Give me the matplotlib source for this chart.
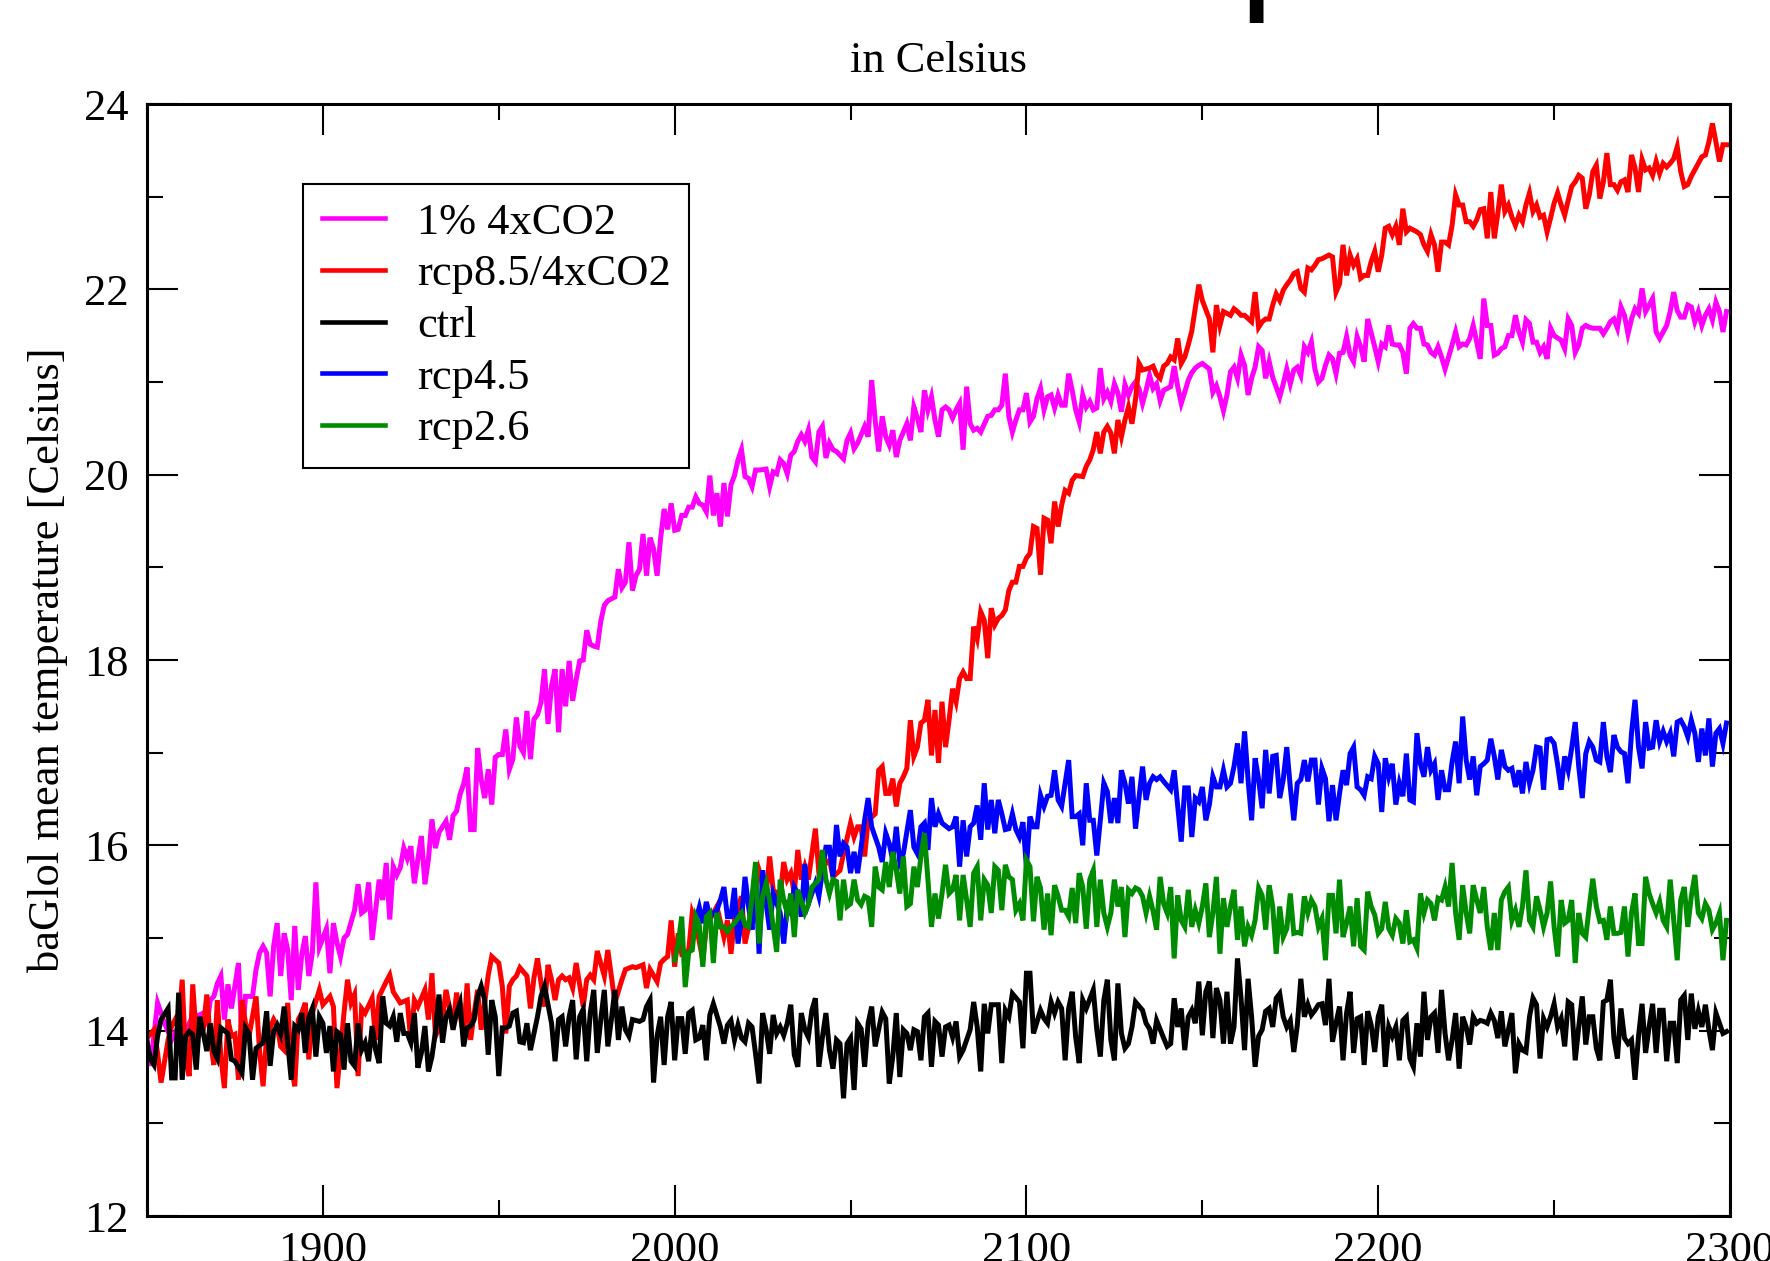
import matplotlib
matplotlib.use("Agg")
import matplotlib.pyplot as plt
from matplotlib.ticker import MultipleLocator

# ---------------- data (annual global mean temperature) -------------
series_labels = ["1% 4xCO2", "rcp8.5/4xCO2", "ctrl", "rcp4.5", "rcp2.6"]
series_colors = ["#ff00ff", "#ff0000", "#000000", "#0000ff", "#008c00"]

onepct_pts = [(1850,13.90),(1851,13.62),(1853,14.30),(1855,14.08),(1857,13.90),(1859,14.05),(1861,13.95),(1862,14.08),(1863,14.15),(1865,14.17),(1866,14.19),(1867,14.05),(1868,14.33),(1869,14.37),(1870,14.51),(1871,14.59),(1872,14.12),(1873,14.50),(1874,14.24),(1876,14.73),(1877,13.90),(1878,14.37),(1880,14.37),(1881,14.66),(1882,14.84),(1883,14.91),(1884,14.84),(1885,14.37),(1886,14.91),(1887,15.16),(1888,14.59),(1889,15.05),(1890,14.87),(1891,14.33),(1892,15.13),(1893,14.44),(1894,14.82),(1895,15.02),(1896,14.59),(1897,14.84),(1898,15.60),(1899,14.90),(1900,15.00),(1901,15.10),(1902,14.62),(1903,15.16),(1904,14.95),(1905,14.80),(1906,15.00),(1907,15.04),(1909,15.30),(1910,15.58),(1911,15.27),(1912,15.30),(1913,15.60),(1914,14.98),(1915,15.30),(1916,15.63),(1917,15.41),(1918,15.81),(1919,15.20),(1920,15.77),(1921,15.68),(1922,15.76),(1923,15.97),(1924,15.86),(1925,15.99),(1926,15.59),(1927,15.85),(1928,16.10),(1929,15.58),(1930,15.85),(1931,16.28),(1932,15.97),(1933,16.14),(1935,16.26),(1936,16.06),(1937,16.32),(1938,16.37),(1939,16.55),(1940,16.66),(1941,16.84),(1942,16.17),(1943,16.17),(1944,17.05),(1945,16.71),(1946,16.51),(1947,16.82),(1948,16.44),(1949,16.95),(1950,16.98),(1951,16.98),(1952,17.25),(1953,16.82),(1954,16.93),(1955,17.38),(1956,17.07),(1957,17.00),(1958,17.45),(1959,16.93),(1960,17.36),(1961,17.41),(1962,17.54),(1963,17.90),(1964,17.31),(1965,17.72),(1966,17.90),(1967,17.22),(1968,17.90),(1969,17.50),(1970,17.99),(1971,17.56),(1972,17.79),(1973,17.99),(1974,18.00),(1975,18.32),(1976,18.17),(1977,18.15),(1978,18.14),(1979,18.42),(1980,18.59),(1981,18.64),(1982,18.66),(1983,18.68),(1984,18.98),(1985,18.78),(1986,18.84),(1987,19.27),(1988,18.75),(1989,18.91),(1990,18.98),(1991,19.36),(1992,18.91),(1993,19.32),(1994,19.20),(1995,18.91),(1996,19.31),(1997,19.63),(1998,19.41),(1999,19.69),(2000,19.40),(2001,19.41),(2002,19.56),(2003,19.56),(2004,19.65),(2005,19.65),(2006,19.76),(2007,19.69),(2008,19.67),(2009,19.60),(2010,19.99),(2011,19.56),(2012,19.80),(2013,19.44),(2014,19.91),(2015,19.55),(2016,19.89),(2017,19.99),(2018,20.16),(2019,20.27),(2020,19.98),(2021,19.96),(2022,19.87),(2023,20.05),(2024,20.05),(2026,20.06),(2027,19.87),(2028,20.03),(2029,20.01),(2030,20.16),(2031,20.12),(2032,20.01),(2033,20.21),(2034,20.25),(2035,20.36),(2036,20.43),(2037,20.36),(2038,20.48),(2039,20.19),(2040,20.14),(2041,20.46),(2042,20.52),(2043,20.18),(2044,20.34),(2045,20.27),(2046,20.25),(2048,20.17),(2049,20.37),(2050,20.45),(2051,20.28),(2052,20.34),(2054,20.52),(2055,20.41),(2056,21.02),(2057,20.59),(2058,20.25),(2059,20.63),(2060,20.41),(2061,20.32),(2062,20.48),(2063,20.19),(2064,20.37),(2065,20.46),(2066,20.55),(2067,20.37),(2068,20.73),(2069,20.61),(2070,20.46),(2071,20.91),(2072,20.70),(2073,20.84),(2074,20.59),(2075,20.41),(2076,20.70),(2077,20.73),(2078,20.70),(2079,20.61),(2080,20.70),(2081,20.77),(2082,20.27),(2083,20.95),(2084,20.55),(2085,20.48),(2086,20.50),(2087,20.46),(2089,20.63),(2090,20.64),(2091,20.70),(2092,20.70),(2093,20.75),(2094,21.09),(2095,20.63),(2096,20.46),(2097,20.59),(2098,20.70),(2099,20.70),(2100,20.88),(2101,20.57),(2102,20.63),(2103,20.82),(2104,20.93),(2105,20.70),(2106,20.84),(2107,20.86),(2108,20.72),(2109,20.86),(2110,20.75),(2111,20.75),(2112,21.09),(2113,20.91),(2114,20.70),(2115,20.57),(2116,20.86),(2117,20.73),(2118,20.79),(2119,20.70),(2120,20.72),(2121,21.15),(2122,20.82),(2123,20.89),(2124,20.79),(2125,20.98),(2126,20.88),(2127,20.68),(2128,20.97),(2129,20.86),(2130,20.95),(2131,21.00),(2132,20.93),(2133,20.77),(2134,20.91),(2135,21.07),(2136,20.93),(2137,20.98),(2138,20.80),(2139,20.91),(2140,20.93),(2141,20.95),(2142,21.17),(2143,20.95),(2144,20.77),(2145,20.89),(2146,21.02),(2147,21.10),(2148,21.15),(2149,21.18),(2150,21.20),(2152,21.14),(2153,20.89),(2154,20.96),(2155,20.84),(2156,20.69),(2157,20.86),(2158,21.11),(2159,21.16),(2160,21.04),(2161,21.29),(2162,21.18),(2163,20.86),(2164,21.04),(2165,21.16),(2166,21.38),(2167,21.34),(2168,21.04),(2169,21.22),(2170,21.05),(2172,20.84),(2173,20.98),(2174,21.14),(2175,20.98),(2176,21.13),(2177,21.16),(2178,21.07),(2179,21.38),(2180,21.32),(2181,21.43),(2182,21.14),(2183,21.00),(2184,21.04),(2185,21.18),(2186,21.29),(2187,21.25),(2188,21.09),(2189,21.31),(2190,21.32),(2191,21.49),(2192,21.29),(2193,21.22),(2194,21.49),(2195,21.38),(2196,21.22),(2197,21.68),(2199,21.38),(2200,21.22),(2201,21.41),(2202,21.38),(2203,21.61),(2204,21.41),(2205,21.40),(2206,21.40),(2207,21.32),(2208,21.09),(2209,21.58),(2210,21.63),(2211,21.58),(2212,21.58),(2213,21.41),(2214,21.40),(2215,21.32),(2216,21.29),(2217,21.38),(2218,21.27),(2219,21.14),(2220,21.27),(2221,21.40),(2222,21.54),(2223,21.38),(2224,21.41),(2225,21.40),(2226,21.47),(2227,21.61),(2229,21.25),(2230,21.90),(2231,21.61),(2232,21.61),(2233,21.29),(2234,21.31),(2235,21.36),(2236,21.38),(2237,21.50),(2238,21.50),(2239,21.72),(2240,21.54),(2241,21.43),(2242,21.67),(2243,21.63),(2244,21.43),(2245,21.43),(2246,21.32),(2247,21.38),(2248,21.25),(2249,21.58),(2250,21.50),(2252,21.45),(2253,21.36),(2254,21.68),(2255,21.61),(2256,21.32),(2257,21.40),(2258,21.58),(2259,21.61),(2260,21.59),(2261,21.58),(2263,21.58),(2264,21.52),(2265,21.58),(2266,21.65),(2267,21.68),(2268,21.58),(2269,21.81),(2270,21.72),(2271,21.52),(2272,21.68),(2273,21.79),(2274,21.74),(2275,22.01),(2276,21.76),(2278,21.90),(2279,21.54),(2280,21.47),(2281,21.54),(2282,21.61),(2283,21.76),(2284,21.97),(2285,21.77),(2286,21.70),(2287,21.70),(2288,21.83),(2289,21.81),(2290,21.65),(2291,21.76),(2292,21.61),(2293,21.72),(2294,21.79),(2295,21.67),(2296,21.86),(2297,21.76),(2298,21.54),(2299,21.76)]

rcp85_pts = [(1850,13.92),(1852,14.01),(1853,13.76),(1854,13.44),(1856,13.90),(1857,14.05),(1858,14.12),(1859,14.01),(1860,14.55),(1861,13.69),(1862,13.51),(1863,14.50),(1864,13.94),(1866,14.01),(1867,14.39),(1868,13.90),(1869,13.63),(1870,14.33),(1871,13.72),(1872,13.38),(1873,14.12),(1874,13.94),(1875,13.96),(1876,13.47),(1877,14.33),(1878,14.08),(1879,13.94),(1881,14.37),(1882,13.78),(1883,13.40),(1884,13.94),(1886,14.12),(1887,14.05),(1888,13.83),(1889,13.79),(1890,14.30),(1891,13.62),(1892,13.40),(1893,14.12),(1894,14.19),(1895,14.30),(1896,13.69),(1897,14.19),(1899,14.44),(1900,14.28),(1902,14.37),(1903,14.26),(1904,13.38),(1906,14.19),(1907,14.55),(1908,14.30),(1909,14.39),(1910,13.51),(1911,14.24),(1912,14.19),(1914,14.35),(1915,13.90),(1916,14.37),(1918,14.53),(1919,14.60),(1920,14.42),(1922,14.30),(1924,14.33),(1925,13.87),(1926,14.33),(1927,14.26),(1929,14.44),(1930,14.12),(1931,14.62),(1932,13.94),(1934,14.12),(1935,14.44),(1937,14.05),(1938,14.41),(1940,13.94),(1941,14.51),(1942,13.90),(1943,14.19),(1944,14.44),(1945,14.01),(1947,14.60),(1948,14.80),(1950,14.73),(1951,14.48),(1952,13.97),(1953,14.48),(1954,14.55),(1955,14.59),(1956,14.68),(1958,14.59),(1959,14.24),(1960,14.57),(1961,14.78),(1963,14.26),(1964,14.71),(1965,14.55),(1966,14.33),(1967,14.55),(1968,14.59),(1969,14.55),(1970,14.57),(1971,14.46),(1972,14.73),(1974,14.26),(1975,14.55),(1976,14.60),(1977,14.55),(1978,14.86),(1980,14.59),(1981,14.87),(1982,14.59),(1983,14.30),(1985,14.55),(1986,14.66),(1988,14.69),(1989,14.68),(1991,14.71),(1992,14.46),(1993,14.66),(1995,14.53),(1996,14.73),(1997,14.77),(1998,14.80),(1999,15.19),(2000,14.69),(2001,15.05),(2002,14.83),(2004,14.87),(2005,15.27),(2006,15.16),(2008,14.76),(2009,15.12),(2011,15.27),(2012,15.34),(2014,15.01),(2015,15.19),(2016,14.83),(2017,15.19),(2019,15.45),(2020,14.94),(2021,15.12),(2023,15.48),(2024,15.73),(2026,15.48),(2027,15.88),(2028,15.52),(2030,15.45),(2031,15.82),(2032,15.63),(2033,15.70),(2034,15.48),(2035,15.95),(2036,15.63),(2037,15.77),(2038,15.63),(2040,16.18),(2041,15.70),(2042,15.77),(2044,15.84),(2045,15.66),(2047,15.73),(2048,15.91),(2050,16.24),(2051,16.09),(2052,16.20),(2053,16.20),(2054,15.88),(2055,16.27),(2057,16.34),(2058,16.81),(2059,16.85),(2060,16.56),(2061,16.56),(2062,16.72),(2063,16.42),(2064,16.67),(2065,16.74),(2066,16.83),(2067,17.35),(2068,16.96),(2069,17.06),(2070,17.32),(2071,17.35),(2072,17.57),(2073,16.97),(2074,17.46),(2075,16.89),(2076,17.55),(2077,17.06),(2078,17.35),(2079,17.69),(2080,17.55),(2081,17.80),(2082,17.87),(2083,17.80),(2084,17.80),(2085,18.36),(2086,18.23),(2087,18.52),(2088,18.43),(2089,18.02),(2090,18.56),(2091,18.38),(2092,18.45),(2093,18.48),(2094,18.54),(2095,18.75),(2096,18.84),(2097,18.84),(2098,19.01),(2099,19.01),(2100,19.10),(2101,19.15),(2102,19.44),(2103,19.42),(2104,18.92),(2105,19.53),(2106,19.51),(2107,19.26),(2108,19.71),(2109,19.44),(2110,19.67),(2111,19.83),(2112,19.80),(2113,19.94),(2114,19.99),(2116,19.98),(2117,20.09),(2118,20.16),(2119,20.27),(2120,20.46),(2121,20.23),(2122,20.46),(2123,20.52),(2124,20.45),(2125,20.23),(2126,20.59),(2127,20.41),(2128,20.59),(2129,20.73),(2130,20.55),(2131,20.81),(2132,21.20),(2133,21.13),(2135,21.15),(2136,21.17),(2137,21.08),(2138,21.04),(2139,21.17),(2140,21.20),(2141,21.27),(2142,21.24),(2143,21.47),(2144,21.20),(2145,21.27),(2146,21.40),(2147,21.55),(2148,21.80),(2149,22.05),(2150,21.88),(2152,21.68),(2153,21.32),(2154,21.83),(2155,21.61),(2156,21.76),(2157,21.74),(2158,21.72),(2159,21.79),(2160,21.76),(2161,21.72),(2162,21.72),(2164,21.65),(2165,21.97),(2166,21.59),(2167,21.65),(2168,21.68),(2169,21.68),(2170,21.83),(2171,21.95),(2172,21.88),(2173,21.99),(2174,22.05),(2175,22.10),(2176,22.17),(2177,22.19),(2178,22.01),(2179,21.97),(2180,22.23),(2181,22.21),(2182,22.26),(2183,22.32),(2184,22.33),(2186,22.37),(2187,22.35),(2188,21.97),(2189,22.06),(2190,22.48),(2191,22.15),(2192,22.37),(2193,22.26),(2194,22.33),(2195,22.12),(2196,22.15),(2197,22.15),(2198,22.30),(2199,22.41),(2200,22.19),(2201,22.37),(2202,22.66),(2203,22.68),(2204,22.59),(2205,22.68),(2206,22.48),(2207,22.87),(2208,22.62),(2209,22.66),(2210,22.64),(2211,22.62),(2212,22.59),(2213,22.48),(2214,22.41),(2215,22.59),(2216,22.48),(2217,22.19),(2218,22.51),(2219,22.51),(2220,22.48),(2221,22.69),(2222,23.02),(2223,22.91),(2224,22.91),(2225,22.73),(2226,22.73),(2227,22.68),(2228,22.75),(2229,22.86),(2230,22.87),(2231,22.55),(2232,23.05),(2233,22.55),(2234,22.82),(2235,23.13),(2236,22.84),(2237,22.91),(2238,22.78),(2239,22.69),(2240,22.80),(2241,22.73),(2242,22.91),(2243,23.04),(2244,22.84),(2245,22.91),(2246,22.78),(2247,22.80),(2248,22.62),(2249,22.77),(2250,22.93),(2251,23.04),(2252,22.91),(2253,22.80),(2254,22.96),(2255,23.11),(2256,23.16),(2257,23.23),(2258,23.20),(2259,22.87),(2260,23.02),(2261,23.27),(2262,23.34),(2263,22.98),(2264,23.16),(2265,23.47),(2266,23.13),(2267,23.13),(2268,23.07),(2269,23.16),(2270,23.18),(2271,23.05),(2272,23.45),(2273,23.31),(2274,23.05),(2275,23.40),(2276,23.29),(2277,23.31),(2278,23.23),(2279,23.38),(2280,23.25),(2281,23.36),(2282,23.32),(2283,23.36),(2284,23.41),(2285,23.54),(2286,23.27),(2287,23.11),(2288,23.13),(2289,23.22),(2290,23.29),(2291,23.36),(2292,23.43),(2293,23.45),(2294,23.59),(2295,23.79),(2296,23.59),(2297,23.38),(2298,23.56),(2299,23.56)]

ctrl_pts = [(1850,13.88),(1851,13.69),(1852,13.63),(1853,13.94),(1854,14.12),(1856,14.24),(1857,13.49),(1858,13.49),(1859,14.41),(1860,13.47),(1861,13.94),(1862,13.99),(1863,13.96),(1864,13.58),(1865,14.15),(1866,13.97),(1867,13.78),(1868,14.08),(1869,13.78),(1870,13.70),(1871,14.03),(1873,13.97),(1874,13.69),(1875,13.67),(1877,13.54),(1878,14.03),(1879,13.97),(1880,13.47),(1881,13.81),(1883,13.87),(1884,14.21),(1885,13.62),(1886,13.99),(1887,14.06),(1888,13.96),(1889,14.26),(1890,13.87),(1891,13.47),(1892,14.05),(1893,14.01),(1894,14.19),(1895,13.76),(1896,14.14),(1897,14.24),(1898,13.72),(1899,14.15),(1900,14.08),(1901,13.76),(1902,14.05),(1903,13.56),(1904,13.99),(1905,13.96),(1906,13.58),(1907,14.08),(1908,13.67),(1909,13.62),(1910,14.08),(1911,13.79),(1912,13.87),(1913,13.67),(1914,14.05),(1915,13.79),(1916,13.65),(1917,14.37),(1918,14.08),(1919,14.05),(1920,14.15),(1921,13.88),(1922,14.19),(1923,13.97),(1924,13.97),(1925,13.87),(1926,14.19),(1927,13.60),(1928,13.76),(1929,14.05),(1930,13.56),(1931,13.72),(1932,13.99),(1933,14.39),(1934,13.87),(1935,14.15),(1936,14.23),(1937,14.01),(1938,14.19),(1939,14.30),(1940,13.83),(1941,14.03),(1942,14.05),(1943,14.12),(1944,14.37),(1945,14.48),(1946,14.33),(1947,13.74),(1948,14.33),(1949,14.15),(1950,13.51),(1951,14.03),(1952,14.03),(1953,14.05),(1954,14.19),(1955,14.21),(1956,13.88),(1957,13.87),(1958,14.08),(1959,13.79),(1960,13.97),(1961,14.15),(1962,14.37),(1963,14.48),(1965,14.08),(1966,13.67),(1967,14.12),(1968,14.15),(1969,13.83),(1970,14.15),(1971,14.33),(1972,13.69),(1973,14.15),(1974,14.23),(1975,13.67),(1976,14.19),(1977,14.44),(1978,13.76),(1979,14.12),(1980,14.44),(1981,13.83),(1982,14.12),(1983,14.44),(1984,13.90),(1985,14.26),(1986,14.01),(1987,13.94),(1988,14.12),(1990,14.10),(1991,14.12),(1992,14.26),(1993,14.33),(1994,13.44),(1995,13.94),(1996,14.15),(1997,13.63),(1998,14.15),(1999,14.31),(2000,13.68),(2001,14.13),(2002,14.13),(2003,13.75),(2004,14.19),(2005,14.22),(2006,13.90),(2007,13.92),(2008,14.06),(2009,13.68),(2010,14.17),(2011,14.29),(2013,14.04),(2014,13.86),(2015,14.06),(2016,14.11),(2017,13.90),(2018,14.06),(2019,13.92),(2020,13.88),(2021,14.08),(2022,14.04),(2023,13.75),(2024,13.43),(2025,14.19),(2026,14.01),(2027,13.75),(2028,14.17),(2029,13.97),(2030,14.04),(2031,13.95),(2032,14.08),(2033,14.28),(2034,13.74),(2035,13.61),(2036,14.19),(2037,14.01),(2038,13.93),(2039,14.22),(2040,14.35),(2041,13.61),(2042,13.93),(2043,14.19),(2044,13.79),(2045,13.59),(2046,13.90),(2047,13.86),(2048,13.27),(2049,13.86),(2050,13.92),(2051,13.36),(2052,14.08),(2053,14.02),(2054,13.61),(2055,14.08),(2056,14.26),(2057,13.83),(2059,14.20),(2060,14.13),(2061,13.43),(2062,13.72),(2063,14.19),(2064,13.50),(2065,14.01),(2066,13.97),(2067,13.79),(2068,14.01),(2069,13.99),(2070,13.68),(2071,14.15),(2072,14.19),(2073,13.61),(2074,14.10),(2075,14.06),(2076,13.72),(2077,14.04),(2078,14.06),(2079,13.93),(2080,14.10),(2081,13.72),(2082,13.79),(2084,14.01),(2085,14.31),(2086,14.04),(2087,13.56),(2088,14.29),(2089,13.97),(2090,14.28),(2092,14.28),(2093,13.65),(2094,14.22),(2095,14.15),(2096,14.40),(2098,14.31),(2099,13.81),(2100,14.62),(2101,14.62),(2102,13.97),(2104,14.22),(2105,14.13),(2106,14.08),(2107,14.31),(2108,14.19),(2109,14.31),(2110,14.24),(2111,13.68),(2112,14.24),(2113,14.42),(2114,13.93),(2115,13.65),(2116,14.33),(2117,14.24),(2119,14.44),(2120,14.01),(2121,13.72),(2122,14.33),(2123,14.55),(2124,13.90),(2125,13.68),(2126,14.51),(2127,13.97),(2128,13.81),(2129,13.86),(2130,14.04),(2131,14.31),(2133,14.22),(2134,14.08),(2135,14.02),(2136,13.86),(2137,14.11),(2139,13.92),(2140,13.83),(2141,13.86),(2142,14.35),(2143,14.04),(2144,14.24),(2145,13.79),(2146,14.15),(2147,14.22),(2148,14.08),(2149,14.53),(2150,13.95),(2151,14.42),(2152,14.53),(2153,13.92),(2154,14.46),(2155,14.33),(2156,13.86),(2157,14.42),(2158,13.86),(2159,14.04),(2160,14.78),(2161,14.35),(2162,13.79),(2163,14.56),(2164,14.15),(2165,13.61),(2166,13.94),(2167,14.01),(2168,14.21),(2169,14.24),(2170,14.04),(2171,14.35),(2172,14.40),(2173,14.15),(2174,14.04),(2175,14.11),(2176,13.77),(2177,14.06),(2178,14.56),(2179,14.15),(2180,14.28),(2181,14.17),(2182,14.22),(2183,14.28),(2184,14.29),(2185,14.06),(2186,14.56),(2187,13.88),(2188,14.08),(2189,14.26),(2190,13.68),(2191,14.19),(2192,14.42),(2193,13.76),(2194,14.13),(2195,14.15),(2196,13.63),(2197,14.21),(2198,14.06),(2199,13.77),(2200,14.15),(2201,14.28),(2202,13.61),(2203,14.04),(2204,13.94),(2205,14.04),(2206,13.68),(2207,14.11),(2208,14.15),(2209,13.70),(2210,13.61),(2211,14.08),(2212,13.72),(2213,14.42),(2214,13.90),(2215,14.15),(2216,14.19),(2217,13.76),(2218,14.44),(2219,13.97),(2220,13.68),(2221,13.90),(2222,14.19),(2223,13.59),(2224,14.15),(2225,14.04),(2226,13.85),(2227,14.15),(2228,14.08),(2229,14.11),(2230,14.10),(2231,14.08),(2232,14.19),(2233,14.11),(2234,13.92),(2235,14.21),(2236,13.83),(2237,14.01),(2238,14.19),(2239,13.54),(2240,13.86),(2241,13.79),(2242,13.77),(2243,14.15),(2244,14.35),(2245,14.28),(2246,13.70),(2247,14.13),(2248,14.04),(2249,14.15),(2250,14.29),(2251,14.04),(2252,14.13),(2253,13.83),(2254,14.31),(2255,14.28),(2256,13.68),(2257,14.04),(2258,14.37),(2259,13.85),(2260,14.15),(2261,14.15),(2262,13.81),(2263,13.68),(2264,14.31),(2265,14.33),(2266,14.55),(2267,13.92),(2268,13.70),(2269,14.24),(2270,13.92),(2271,13.86),(2272,13.90),(2273,13.47),(2274,13.94),(2275,14.29),(2276,13.76),(2277,14.04),(2278,14.29),(2279,13.76),(2280,14.22),(2281,14.22),(2282,13.67),(2283,14.08),(2284,14.08),(2285,13.65),(2286,14.33),(2287,14.38),(2288,13.90),(2289,14.40),(2290,14.02),(2291,14.21),(2292,14.04),(2293,14.28),(2294,14.01),(2295,13.79),(2296,14.19),(2297,14.08),(2298,13.97),(2299,13.99)]

rcp45_pts = [(2006,15.19),(2007,15.33),(2008,15.16),(2009,15.39),(2010,15.23),(2012,15.30),(2013,15.41),(2014,15.55),(2015,15.23),(2016,15.23),(2017,15.54),(2018,14.94),(2019,15.19),(2020,15.66),(2021,15.34),(2022,15.09),(2023,15.70),(2024,14.83),(2025,15.73),(2026,15.37),(2027,15.09),(2028,15.48),(2030,15.27),(2031,14.94),(2032,15.34),(2033,15.27),(2034,15.55),(2035,15.48),(2036,15.23),(2037,15.80),(2038,15.37),(2039,15.48),(2040,15.59),(2041,15.45),(2043,15.98),(2044,15.98),(2045,15.66),(2046,16.22),(2047,15.88),(2048,16.02),(2049,15.98),(2050,15.70),(2051,15.93),(2052,15.70),(2053,15.98),(2054,16.27),(2055,16.51),(2056,16.20),(2057,16.09),(2058,15.98),(2059,15.82),(2060,16.13),(2061,16.02),(2062,15.84),(2063,16.20),(2064,15.82),(2065,15.91),(2067,16.38),(2068,15.98),(2069,15.91),(2070,16.20),(2071,16.24),(2072,15.95),(2073,16.51),(2074,16.20),(2075,16.34),(2076,16.24),(2078,16.18),(2079,16.20),(2080,16.31),(2081,15.77),(2082,16.27),(2083,15.88),(2084,16.20),(2085,16.24),(2086,16.43),(2087,16.06),(2088,16.67),(2089,16.17),(2090,16.49),(2091,16.13),(2092,16.49),(2093,16.34),(2094,16.17),(2095,16.18),(2096,16.34),(2097,16.17),(2098,16.09),(2099,16.25),(2100,15.77),(2101,16.31),(2102,16.20),(2103,16.20),(2104,16.54),(2105,16.42),(2106,16.53),(2107,16.54),(2108,16.81),(2109,16.49),(2110,16.42),(2111,16.67),(2112,16.92),(2113,16.31),(2114,16.31),(2115,16.34),(2116,16.00),(2117,16.67),(2118,16.27),(2119,16.27),(2120,15.89),(2121,16.27),(2122,16.67),(2123,16.58),(2124,16.24),(2125,16.51),(2126,16.24),(2127,16.81),(2128,16.67),(2129,16.45),(2130,16.74),(2131,16.18),(2133,16.85),(2134,16.49),(2135,16.67),(2136,16.74),(2137,16.71),(2138,16.74),(2139,16.69),(2141,16.60),(2142,16.81),(2143,16.42),(2144,16.04),(2145,16.62),(2146,16.62),(2147,16.09),(2148,16.51),(2149,16.47),(2150,16.63),(2151,16.27),(2152,16.44),(2153,16.74),(2154,16.63),(2155,16.63),(2156,16.81),(2157,16.63),(2158,16.67),(2159,16.85),(2160,17.10),(2161,16.67),(2162,17.23),(2163,16.71),(2164,16.27),(2165,16.94),(2166,16.71),(2167,16.40),(2168,17.03),(2169,16.56),(2170,16.96),(2171,16.97),(2172,16.51),(2173,16.71),(2174,17.06),(2175,16.63),(2176,16.27),(2177,16.67),(2178,16.71),(2179,16.92),(2180,16.69),(2181,16.92),(2182,16.92),(2183,16.44),(2184,16.83),(2185,16.72),(2186,16.26),(2187,16.65),(2188,16.27),(2189,16.56),(2190,16.81),(2191,16.65),(2192,16.99),(2193,17.06),(2194,16.63),(2195,16.60),(2196,16.54),(2197,16.74),(2198,16.72),(2199,16.96),(2200,16.88),(2201,16.36),(2202,16.94),(2203,16.74),(2204,16.88),(2205,16.44),(2206,16.67),(2207,16.53),(2208,16.99),(2209,16.49),(2210,16.47),(2211,17.21),(2212,16.88),(2213,16.74),(2214,17.06),(2215,16.81),(2216,16.88),(2217,16.49),(2218,16.81),(2219,16.60),(2220,16.60),(2221,16.90),(2222,17.12),(2223,16.67),(2224,17.39),(2225,16.92),(2226,16.71),(2227,16.96),(2228,16.54),(2229,16.85),(2230,16.88),(2231,16.92),(2232,17.15),(2233,16.96),(2234,16.71),(2235,17.03),(2236,16.85),(2237,16.81),(2238,16.83),(2239,16.63),(2240,16.81),(2241,16.56),(2242,16.90),(2243,16.67),(2244,16.81),(2245,17.06),(2246,17.05),(2247,16.60),(2248,17.14),(2249,17.15),(2250,17.10),(2251,16.87),(2252,16.60),(2253,16.96),(2254,16.81),(2255,17.05),(2256,17.33),(2257,16.85),(2258,16.51),(2259,16.99),(2260,17.12),(2261,17.06),(2262,16.92),(2263,16.90),(2264,17.33),(2265,16.96),(2266,16.79),(2267,17.19),(2268,17.06),(2269,17.01),(2270,16.99),(2271,16.67),(2272,17.21),(2273,17.57),(2274,17.06),(2275,16.83),(2276,17.33),(2277,17.05),(2278,17.06),(2279,17.35),(2280,17.12),(2281,17.23),(2282,17.12),(2283,17.21),(2284,16.96),(2285,17.33),(2286,17.35),(2287,17.28),(2288,17.17),(2289,17.35),(2290,17.21),(2291,16.90),(2292,17.26),(2293,16.97),(2294,17.37),(2295,16.85),(2296,17.21),(2297,17.26),(2298,17.10),(2299,17.32)]

rcp26_pts = [(2000,14.76),(2001,14.94),(2002,15.23),(2003,14.47),(2004,14.85),(2005,14.87),(2006,15.23),(2007,15.14),(2008,14.69),(2009,15.23),(2010,15.27),(2011,14.73),(2012,15.27),(2013,15.12),(2014,15.12),(2015,15.07),(2016,15.12),(2017,15.16),(2019,15.27),(2020,15.14),(2021,15.12),(2022,15.45),(2023,15.82),(2024,14.94),(2025,15.45),(2026,15.59),(2027,15.41),(2029,14.85),(2030,15.63),(2031,15.41),(2032,15.27),(2033,15.48),(2034,15.01),(2035,15.52),(2037,15.27),(2038,15.36),(2039,15.55),(2041,15.63),(2042,15.95),(2043,15.63),(2044,15.48),(2045,15.63),(2046,15.61),(2047,15.19),(2048,15.63),(2049,15.34),(2050,15.37),(2051,15.63),(2052,15.41),(2053,15.36),(2054,15.45),(2055,15.43),(2056,15.12),(2057,15.77),(2058,15.55),(2059,15.52),(2060,15.82),(2061,15.55),(2062,15.93),(2063,15.73),(2064,15.48),(2065,15.88),(2066,15.34),(2067,15.37),(2068,15.77),(2069,15.55),(2070,15.88),(2071,16.13),(2072,15.63),(2073,15.12),(2074,15.48),(2075,15.21),(2076,15.48),(2077,15.79),(2078,15.48),(2079,15.52),(2080,15.68),(2081,15.19),(2082,15.68),(2083,15.41),(2084,15.12),(2085,15.70),(2086,15.77),(2087,15.19),(2088,15.63),(2089,15.57),(2090,15.27),(2091,15.77),(2092,15.73),(2093,15.30),(2094,15.79),(2095,15.66),(2096,15.63),(2097,15.30),(2098,15.37),(2099,15.19),(2100,15.84),(2101,15.77),(2102,15.18),(2103,15.66),(2104,15.54),(2105,15.09),(2106,15.48),(2107,15.03),(2108,15.57),(2109,15.45),(2110,15.30),(2111,15.30),(2112,15.23),(2113,15.54),(2114,15.16),(2115,15.70),(2116,15.55),(2117,15.10),(2118,15.63),(2119,15.73),(2120,15.12),(2121,15.63),(2122,15.27),(2123,15.12),(2124,15.27),(2125,15.63),(2126,15.34),(2127,15.55),(2128,15.01),(2129,15.52),(2130,15.48),(2131,15.54),(2132,15.52),(2133,15.45),(2134,15.27),(2135,15.45),(2136,15.29),(2137,15.09),(2138,15.66),(2139,15.37),(2140,15.27),(2141,15.55),(2142,14.78),(2143,15.46),(2144,15.19),(2145,15.12),(2146,15.52),(2147,15.12),(2148,15.30),(2149,15.16),(2150,15.34),(2151,15.59),(2152,15.01),(2153,15.27),(2154,15.66),(2155,14.83),(2156,15.43),(2157,15.12),(2158,15.34),(2159,15.52),(2160,14.98),(2161,15.34),(2162,14.91),(2163,15.12),(2164,15.03),(2165,15.19),(2166,15.54),(2167,15.46),(2168,15.09),(2169,15.57),(2170,15.34),(2171,14.83),(2172,15.34),(2173,15.01),(2174,15.10),(2175,15.48),(2176,15.05),(2177,15.06),(2178,15.05),(2179,15.45),(2180,15.27),(2181,15.41),(2182,15.34),(2183,15.12),(2184,15.21),(2185,14.76),(2186,15.46),(2187,15.46),(2188,15.05),(2189,15.63),(2190,15.01),(2191,15.16),(2192,15.34),(2193,14.91),(2194,15.43),(2195,14.91),(2196,14.87),(2197,15.50),(2198,15.34),(2199,15.25),(2200,15.05),(2201,15.10),(2202,15.39),(2203,15.10),(2204,15.03),(2205,15.21),(2206,15.16),(2207,14.94),(2208,15.30),(2209,14.96),(2210,14.98),(2211,14.89),(2212,15.48),(2213,15.27),(2214,15.41),(2215,15.37),(2216,15.19),(2217,15.43),(2218,15.41),(2219,15.55),(2220,15.34),(2221,15.81),(2222,15.27),(2223,14.98),(2224,15.57),(2225,15.27),(2226,15.05),(2227,15.57),(2228,15.41),(2229,15.27),(2230,15.55),(2231,15.12),(2232,14.87),(2233,15.27),(2234,14.87),(2235,15.41),(2236,15.50),(2237,15.55),(2238,15.19),(2239,15.30),(2240,15.12),(2241,15.34),(2242,15.73),(2243,15.19),(2244,15.12),(2245,15.45),(2246,15.30),(2247,15.12),(2248,15.27),(2249,15.61),(2250,15.12),(2251,14.80),(2252,15.41),(2253,15.16),(2254,15.19),(2255,15.41),(2256,14.73),(2257,15.27),(2258,15.05),(2259,15.01),(2260,15.34),(2261,15.64),(2262,15.34),(2263,15.18),(2264,15.19),(2265,14.98),(2266,15.34),(2267,15.05),(2268,15.05),(2269,15.06),(2270,15.34),(2271,14.80),(2272,15.27),(2273,15.48),(2274,14.94),(2275,14.94),(2276,15.66),(2277,15.48),(2278,15.37),(2279,15.27),(2280,15.39),(2281,15.19),(2282,15.12),(2283,15.63),(2284,15.19),(2285,14.76),(2286,15.41),(2287,15.55),(2288,15.12),(2289,15.45),(2290,15.68),(2291,15.27),(2292,15.21),(2293,15.37),(2294,15.30),(2295,15.09),(2296,15.16),(2297,15.27),(2298,14.76),(2299,15.19)]

onepct_year, onepct_temp = map(list, zip(*onepct_pts))
rcp85_year, rcp85_temp = map(list, zip(*rcp85_pts))
ctrl_year, ctrl_temp = map(list, zip(*ctrl_pts))
rcp45_year, rcp45_temp = map(list, zip(*rcp45_pts))
rcp26_year, rcp26_temp = map(list, zip(*rcp26_pts))

x_range = (1850, 2300)
y_range = (12, 24)
x_major = [1900, 2000, 2100, 2200, 2300]
y_major = [12, 14, 16, 18, 20, 22, 24]

title_text = "baGlol mean temperature"
subtitle_text = "in Celsius"
ylabel_text = "baGlol mean temperature [Celsius]"

# ---------------- figure -------------
plt.rcParams['font.family'] = ['Liberation Serif', 'DejaVu Serif']
W, H = 1770, 1261
fig = plt.figure(figsize=(W / 100, H / 100), dpi=100)
ax = fig.add_axes([147 / W, (H - 1216) / H, 1583 / W, 1112 / H])

series = [(onepct_year, onepct_temp), (rcp85_year, rcp85_temp), (ctrl_year, ctrl_temp),
          (rcp45_year, rcp45_temp), (rcp26_year, rcp26_temp)]
handles = []
for (xs, ys), lab, col in zip(series, series_labels, series_colors):
    ln, = ax.plot(xs, ys, color=col, lw=3.6, label=lab, solid_joinstyle='miter')
    handles.append(ln)

ax.set_xlim(*x_range)
ax.set_ylim(*y_range)
ax.set_xticks(x_major)
ax.set_yticks(y_major)
ax.xaxis.set_minor_locator(MultipleLocator(50))
ax.yaxis.set_minor_locator(MultipleLocator(1))
ax.tick_params(which='both', direction='in', top=True, right=True, width=1.5, colors='black')
ax.tick_params(which='major', length=22, labelsize=32)
ax.tick_params(which='minor', length=11.5)
ax.tick_params(axis='x', which='major', pad=11)
ax.tick_params(axis='y', which='major', pad=13)
for sp in ax.spines.values():
    sp.set_linewidth(2.2)

ax.set_ylabel(ylabel_text, fontsize=32)
ax.yaxis.set_label_coords(-0.05, 0.5)
ax.set_title(subtitle_text, fontsize=32, pad=23)

fig.text(931 / W, 1 + 10 / H, title_text, ha='center', va='baseline',
         fontsize=114, family=['Liberation Sans', 'DejaVu Sans'])

leg = ax.legend(handles=handles, loc='upper left',
                bbox_to_anchor=(303 / W, 1 - 184 / H), bbox_transform=fig.transFigure,
                fontsize=32, frameon=True, fancybox=False, framealpha=1, edgecolor='black',
                borderpad=0.42, labelspacing=0.26, handlelength=1.42, handletextpad=0.72,
                borderaxespad=0)
leg.get_frame().set_linewidth(1.5)
for lh in leg.get_lines():
    lh.set_linewidth(3.3)

fig.savefig("out.png", dpi=100)
